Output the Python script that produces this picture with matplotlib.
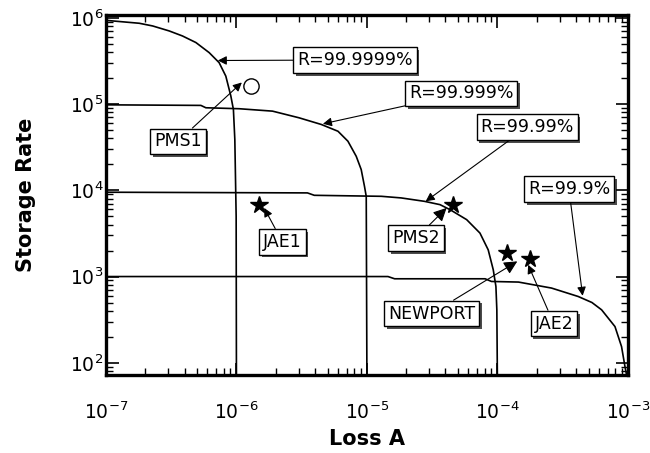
import matplotlib.pyplot as plt
import matplotlib.patheffects as pe

# curves (loss A, storage rate)
r6_loss = [1e-7, 1.8e-7, 2.28e-7, 3.05e-7, 3.86e-7, 4.89e-7, 6.18e-7, 7.37e-7, 8.29e-7, 9.06e-7, 9.48e-7, 9.72e-7, 9.95e-7, 1e-6]
r6_rate = [9.35e5, 8.65e5, 8.05e5, 7.05e5, 6.16e5, 5.17e5, 3.95e5, 3.02e5, 2.11e5, 1.24e5, 8.65e4, 3.88e4, 5e3, 60]

r5_loss = [1e-7, 5.34e-7, 5.83e-7, 1.05e-6, 1.89e-6, 3.02e-6, 4.47e-6, 6.0e-6, 7.15e-6, 8.28e-6, 9.04e-6, 9.58e-6, 9.88e-6, 1e-5]
r5_rate = [9.8e4, 9.65e4, 9.06e4, 8.83e4, 8.28e4, 6.93e4, 5.8e4, 4.84e4, 3.71e4, 2.48e4, 1.74e4, 1.11e4, 8.5e3, 60]

r4_loss = [1e-7, 3.5e-6, 3.95e-6, 1.29e-5, 1.83e-5, 2.76e-5, 3.63e-5, 4.33e-5, 5.81e-5, 7.35e-5, 8.5e-5, 9.29e-5, 9.74e-5, 9.9e-5, 1e-4]
r4_rate = [9.5e3, 9.33e3, 8.75e3, 8.52e3, 8.16e3, 7.45e3, 6.82e3, 5.97e3, 4.57e3, 3.19e3, 2.04e3, 1.2e3, 766, 411, 60]

r3_loss = [1e-7, 1.45e-5, 1.63e-5, 8.05e-5, 9.0e-5, 1.45e-4, 2.6e-4, 4.16e-4, 5.3e-4, 6.29e-4, 7.96e-4, 8.94e-4, 9.5e-4, 1e-3]
r3_rate = [1.0e3, 1.0e3, 942, 942, 877, 863, 735, 587, 500, 411, 263, 154, 90, 60]

# devices
pms1 = (1.29e-6, 1.64e5)
star_names = ['JAE1', 'PMS2', 'NEWPORT', 'JAE2']
star_loss = [1.49e-6, 4.6e-5, 1.18e-4, 1.78e-4]
star_rate = [6.8e3, 6.8e3, 1.87e3, 1.6e3]

fig = plt.figure(figsize=(6.5, 4.53), dpi=100)
ax = fig.add_axes([0.163, 0.172, 0.803, 0.795])

for xs, ys in [(r6_loss, r6_rate), (r5_loss, r5_rate), (r4_loss, r4_rate), (r3_loss, r3_rate)]:
    ax.plot(xs, ys, color='black', lw=1.2)

ax.plot([pms1[0]], [pms1[1]], 'o', mfc='white', mec='black', ms=11, mew=1)
ax.plot(star_loss, star_rate, '*', color='black', ms=13, ls='none')

ax.set_xscale('log')
ax.set_yscale('log')
ax.set_xlim(1e-7, 1e-3)
ax.set_ylim(72, 1.08e6)

for s in ax.spines.values():
    s.set_linewidth(2.4)
ax.tick_params(which='both', direction='in', top=True, right=True, labelsize=13.5)
ax.tick_params(which='major', length=9, width=1.2)
ax.tick_params(which='minor', length=5, width=1)
ax.tick_params(axis='x', which='major', pad=19)
ax.tick_params(axis='y', which='major', pad=2)

ax.set_xlabel('Loss A', fontsize=15, fontweight='bold', labelpad=4)
ax.set_ylabel('Storage Rate', fontsize=15, fontweight='bold', labelpad=24)

# labelled boxes with arrows
notes = [
    ('R=99.9999%', (7.2e-7, 3.2e5), (0.477, 0.875)),
    ('R=99.999%', (4.6e-6, 5.9e4), (0.681, 0.782)),
    ('R=99.99%', (2.82e-5, 7.45e3), (0.807, 0.688)),
    ('R=99.9%', (4.5e-4, 598), (0.887, 0.516)),
    ('PMS1', (1.1e-6, 1.78e5), (0.138, 0.649)),
    ('JAE1', (1.63e-6, 6.25e3), (0.338, 0.370)),
    ('PMS2', (4.08e-5, 6.25e3), (0.594, 0.380)),
    ('NEWPORT', (1.42e-4, 1.5e3), (0.624, 0.171)),
    ('JAE2', (1.72e-4, 1.37e3), (0.858, 0.143)),
]
for text, tip, pos in notes:
    big = text in ('PMS2', 'NEWPORT')
    ann = ax.annotate(text, xy=tip, xycoords='data', xytext=pos, textcoords='axes fraction',
                      ha='center', va='center', fontsize=12.5,
                      bbox=dict(boxstyle='square,pad=0.22', fc='white', ec='black', lw=1),
                      arrowprops=dict(arrowstyle='-|>', color='black', lw=0.8,
                                      mutation_scale=20 if big else 13, shrinkA=0, shrinkB=0))
    ann.get_bbox_patch().set_path_effects([
        pe.SimplePatchShadow(offset=(2, -2), shadow_rgbFace='black', alpha=0.7), pe.Normal()])

plt.savefig('out.png', dpi=100)
